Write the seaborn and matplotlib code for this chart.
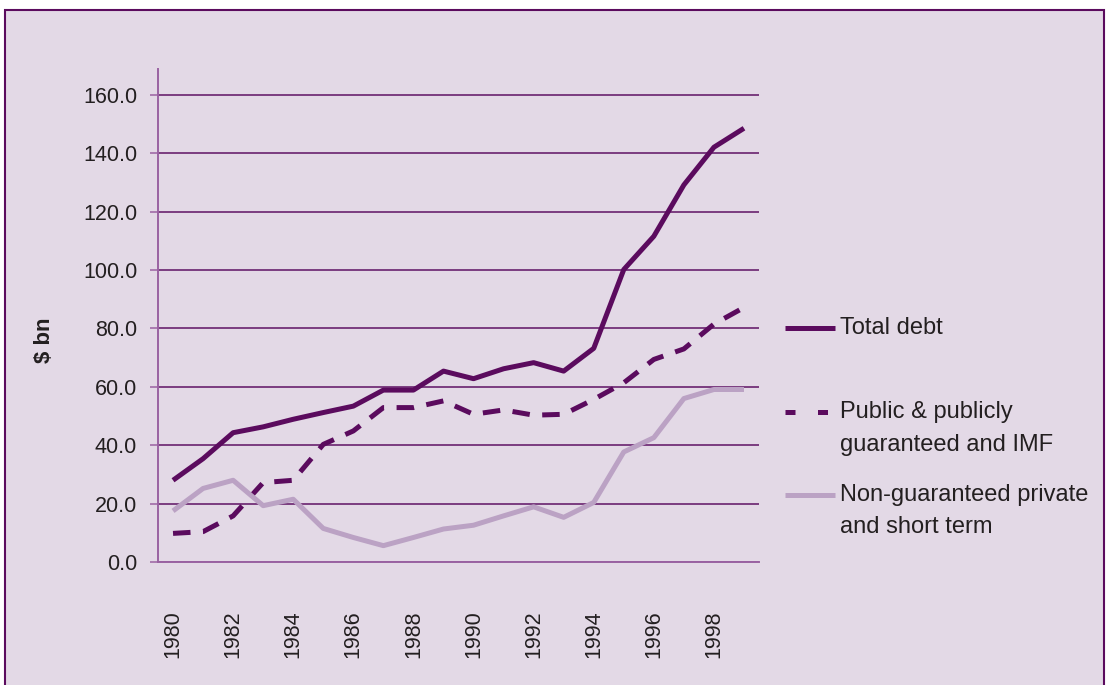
import matplotlib
matplotlib.use("Agg")
import matplotlib.pyplot as plt
import matplotlib.patches as patches
from matplotlib.lines import Line2D
from matplotlib import font_manager
import seaborn as sns
import pandas as pd

years = list(range(1980, 2000))
total_debt = [28.0, 35.4, 44.3, 46.3, 48.9, 51.2, 53.4, 58.9, 58.9, 65.4,
              62.8, 66.2, 68.3, 65.4, 73.2, 100.2, 111.6, 129.2, 142.1, 148.6]
public_imf = [9.8, 10.4, 15.8, 27.2, 28.0, 40.3, 44.9, 52.9, 52.9, 55.2,
              50.6, 52.1, 50.3, 50.6, 55.7, 61.4, 69.4, 73.0, 81.5, 87.2]
non_guaranteed = [17.5, 25.2, 28.0, 19.3, 21.5, 11.5, 8.4, 5.6, 8.4, 11.3,
                  12.6, 15.8, 18.9, 15.3, 20.4, 37.7, 42.6, 56.0, 59.1, 59.1]
series_names = ["Total debt", "Public & publicly guaranteed and IMF",
                "Non-guaranteed private and short term"]
legend_lines = [["Total debt"],
                ["Public & publicly", "guaranteed and IMF"],
                ["Non-guaranteed private", "and short term"]]
y_ticks = [0, 20, 40, 60, 80, 100, 120, 140, 160]

dark = "#5B0B5E"
light = "#BBA2C4"
bg = "#E3D9E6"
grid_c = "#5E1264"
spine_c = "#9A62A2"
text_c = "#231F20"

sns.set_style("white")
names = {f.name for f in font_manager.fontManager.ttflist}
narrow = "Liberation Sans Narrow" if "Liberation Sans Narrow" in names else "Liberation Sans"
tick_size = 17 if narrow == "Liberation Sans Narrow" else 15.5
plt.rcParams["font.family"] = ["Liberation Sans", "DejaVu Sans"]

df = pd.DataFrame({
    "pos": list(range(len(years))) * 3,
    "value": total_debt + public_imf + non_guaranteed,
    "series": [series_names[0]] * len(years) + [series_names[1]] * len(years)
              + [series_names[2]] * len(years),
})

W, H = 1110, 685
fig = plt.figure(figsize=(W / 100, H / 100), dpi=100, facecolor="white")
fig.add_artist(patches.Rectangle((5 / W, -0.02), (1104 - 5) / W, (H - 10) / H + 0.02,
                                 transform=fig.transFigure, facecolor=bg,
                                 edgecolor=dark, linewidth=1.5, zorder=0))

ax = fig.add_axes([158 / W, (H - 562) / H, (759 - 158) / W, (562 - 69.3) / H])
ax.set_facecolor("none")

palette = {series_names[0]: dark, series_names[1]: dark, series_names[2]: light}
dashes = {series_names[0]: "", series_names[1]: (3.5, 2.5), series_names[2]: ""}
sns.lineplot(data=df, x="pos", y="value", hue="series", style="series",
             palette=palette, dashes=dashes, linewidth=3.6, legend=False, ax=ax, zorder=3)
for ln in ax.get_lines():
    ln.set_solid_capstyle("butt")
    ln.set_dash_capstyle("butt")

ax.set_xlim(-0.5, len(years) - 0.5)
ax.set_ylim(0, 168.8)
ax.set_yticks(y_ticks)
ax.set_yticklabels([f"{v:.1f}" for v in y_ticks], fontsize=tick_size,
                   family=[narrow, "DejaVu Sans"], color=text_c)
ax.set_xticks(range(0, len(years), 2))
ax.set_xticklabels([str(y) for y in years[::2]], rotation=90, fontsize=tick_size,
                   family=[narrow, "DejaVu Sans"], color=text_c)
ax.set_xticks([i - 0.5 for i in range(len(years) + 1)], minor=True)
ax.tick_params(axis="x", which="major", length=0, pad=35)
ax.tick_params(axis="x", which="minor", length=8, width=1.1, color=spine_c, direction="out")
ax.tick_params(axis="y", length=6, width=1.1, color=spine_c, direction="out", pad=9, left=True)
ax.set_xlabel("")
ax.set_ylabel("")

ax.yaxis.grid(True, color=grid_c, linewidth=1.1)
ax.set_axisbelow(True)
for s in ["top", "right"]:
    ax.spines[s].set_visible(False)
for s in ["left", "bottom"]:
    ax.spines[s].set_color(spine_c)
    ax.spines[s].set_linewidth(1.4)

fig.text(45 / W, 1 - 340 / H, "\\$ bn", rotation=90, fontsize=16, fontweight="bold",
         ha="center", va="center", color=text_c)

# legend drawn by hand, handle level with first text line
legend_y = [[328], [412, 445], [495, 527]]
styles = [dict(color=dark, linestyle="-"),
          dict(color=dark, linestyle=(0, (2.0, 4.5))),
          dict(color=light, linestyle="-")]
for lines, ys, st in zip(legend_lines, legend_y, styles):
    fig.add_artist(Line2D([785 / W, 835 / W], [1 - ys[0] / H] * 2, transform=fig.transFigure,
                          linewidth=3.6, solid_capstyle="butt", dash_capstyle="butt", **st))
    for txt, yy in zip(lines, ys):
        fig.text(840 / W, 1 - yy / H, txt, fontsize=17, ha="left", va="center", color=text_c)

fig.savefig("out.png", dpi=100, facecolor="white")
